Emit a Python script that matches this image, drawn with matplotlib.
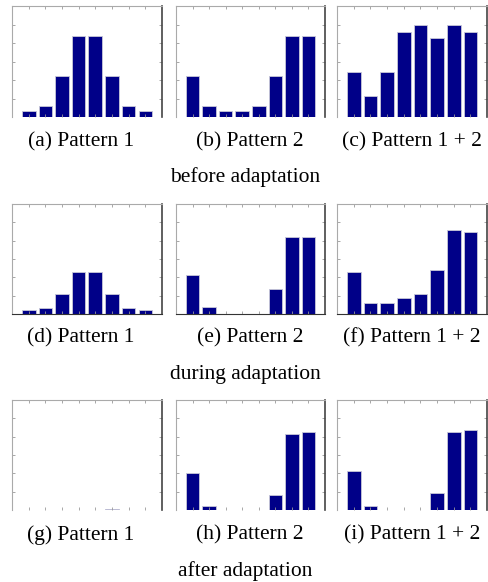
import numpy as np
import matplotlib
matplotlib.use("Agg")
import matplotlib.pyplot as plt

plt.rcParams['font.family'] = ['Liberation Serif', 'DejaVu Serif']

# bar heights (8 bins per panel)
before_p1 = [0.34, 0.61, 2.2, 4.4, 4.4, 2.2, 0.61, 0.34]
before_p2 = [2.2, 0.61, 0.34, 0.34, 0.61, 2.2, 4.4, 4.4]
before_p12 = [2.43, 1.12, 2.43, 4.6, 5.0, 4.29, 5.0, 4.6]

during_p1 = [0.2, 0.31, 1.11, 2.31, 2.31, 1.11, 0.31, 0.2]
during_p2 = [2.11, 0.38, 0.0, 0.0, 0.0, 1.38, 4.19, 4.19]
during_p12 = [2.3, 0.6, 0.6, 0.89, 1.09, 2.39, 4.6, 4.5]

after_p1 = [0.0, 0.0, 0.0, 0.0, 0.0, 0.08, 0.0, 0.0]
after_p2 = [2.0, 0.22, 0.0, 0.0, 0.0, 0.8, 4.13, 4.24]
after_p12 = [2.13, 0.22, 0.0, 0.0, 0.0, 0.91, 4.24, 4.35]

panel_data = [[before_p1, before_p2, before_p12],
              [during_p1, during_p2, during_p12],
              [after_p1, after_p2, after_p12]]
panel_labels = [["(a) Pattern 1", "(b) Pattern 2", "(c) Pattern 1 + 2"],
                ["(d) Pattern 1", "(e) Pattern 2", "(f) Pattern 1 + 2"],
                ["(g) Pattern 1", "(h) Pattern 2", "(i) Pattern 1 + 2"]]
row_titles = ["before adaptation", "during adaptation", "after adaptation"]

W, H = 488, 582
fig = plt.figure(figsize=(W / 100, H / 100), dpi=100)

# axes boxes in pixels (left, right) and (top, bottom)
cols_px = [(12, 162), (176, 325), (337, 487)]
rows_px = [(6, 117), (204, 314), (400, 510)]
label_x = [81, 250, 412]
label_y = [142, 338, 535]
title_y = [177, 374, 571]

bins = np.arange(1, 9)
for r in range(3):
    for c in range(3):
        x0, x1 = cols_px[c]
        y0, y1 = rows_px[r]
        ax = fig.add_axes([x0 / W, 1 - y1 / H, (x1 - x0) / W, (y1 - y0) / H])
        ax.bar(bins, panel_data[r][c], width=0.82, color='#000088',
               edgecolor='#c8c8d8', linewidth=0.6)
        ax.set_xlim(0, 9)
        ax.set_ylim(0, 6)
        ax.set_xticks(bins)
        ax.set_yticks(np.arange(1, 6))
        ax.tick_params(direction='in', length=2, width=0.6, color='#999999',
                       top=True, right=True, labelbottom=False, labelleft=False)
        for s in ['left', 'top']:
            ax.spines[s].set_color('#aaaaaa')
            ax.spines[s].set_linewidth(0.8)
        ax.spines['right'].set_color('#444444')
        ax.spines['right'].set_linewidth(1.2)
        if r == 1:
            ax.spines['bottom'].set_color('#333333')
            ax.spines['bottom'].set_linewidth(0.8)
        else:
            ax.spines['bottom'].set_visible(False)
        fig.text(label_x[c] / W, 1 - label_y[r] / H, panel_labels[r][c],
                 ha='center', va='center', fontsize=15.5)
    fig.text(245 / W, 1 - title_y[r] / H, row_titles[r],
             ha='center', va='center', fontsize=15.5)

fig.savefig("out.png", dpi=100)
